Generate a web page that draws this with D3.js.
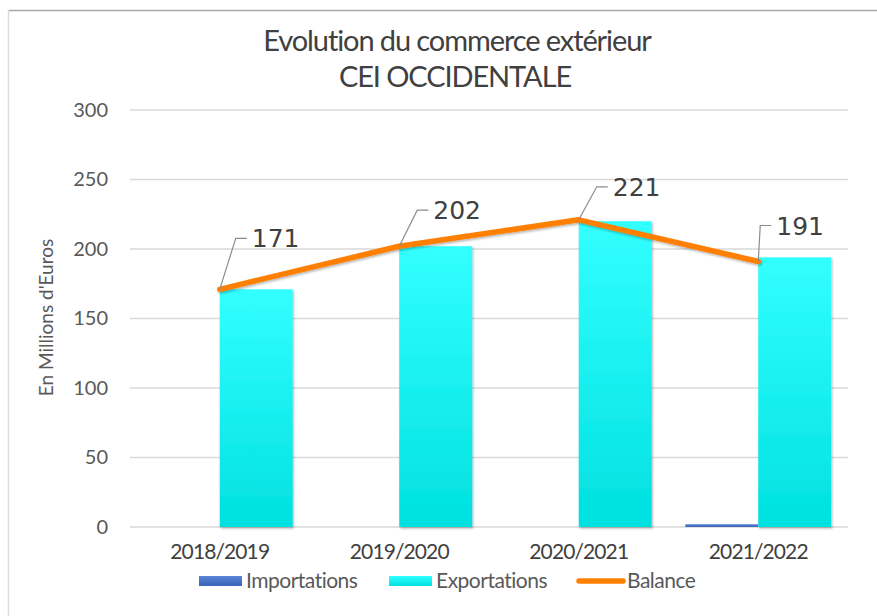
<!DOCTYPE html>
<html>
<head>
<meta charset="utf-8">
<script src="https://cdn.jsdelivr.net/npm/d3@7"></script>
<style>
  html, body { margin: 0; padding: 0; background: #fff; }
  svg { display: block; }
</style>
</head>
<body>
<div id="chart"></div>
<script>
// données
const periods = ['2018/2019', '2019/2020', '2020/2021', '2021/2022'];
const importations = [0, 0, 0, 2];
const exportations = [171, 202, 220, 194];
const balance = [171, 202, 221, 191];
const yTicks = [0, 50, 100, 150, 200, 250, 300];
const seriesNames = ['Importations', 'Exportations', 'Balance'];

// décalage des étiquettes (dx, dy) par rapport au point
const labelOffsets = [[32, -51], [34, -36], [34, -33], [18, -36]];

const W = 877, H = 616;
const margin = { top: 110, right: 29, bottom: 89, left: 130 };
const width = W - margin.left - margin.right;
const height = H - margin.top - margin.bottom;

const svg = d3.select('#chart').append('svg')
    .attr('width', W)
    .attr('height', H);

const defs = svg.append('defs');

const gradExp = defs.append('linearGradient')
    .attr('id', 'gradExp').attr('x1', 0).attr('y1', 0).attr('x2', 0).attr('y2', 1);
gradExp.append('stop').attr('offset', '0%').attr('stop-color', '#33ffff');
gradExp.append('stop').attr('offset', '100%').attr('stop-color', '#00e0e0');

const gradImp = defs.append('linearGradient')
    .attr('id', 'gradImp').attr('x1', 0).attr('y1', 0).attr('x2', 0).attr('y2', 1);
gradImp.append('stop').attr('offset', '0%').attr('stop-color', '#5a86d6');
gradImp.append('stop').attr('offset', '100%').attr('stop-color', '#3a64b8');

const shadow = defs.append('filter').attr('id', 'shadow')
    .attr('x', '-10%').attr('y', '-10%').attr('width', '130%').attr('height', '130%');
shadow.append('feDropShadow')
    .attr('dx', 1).attr('dy', 1.5).attr('stdDeviation', 1.2)
    .attr('flood-color', '#000').attr('flood-opacity', 0.3);

// cadre
svg.append('line')
    .attr('x1', 8).attr('x2', W).attr('y1', 10.5).attr('y2', 10.5)
    .attr('stroke', '#a8a8a8').attr('stroke-width', 1.5);
svg.append('line')
    .attr('x1', 8.5).attr('x2', 8.5).attr('y1', 10).attr('y2', H)
    .attr('stroke', '#dcdcdc').attr('stroke-width', 1.5);

// titre
const title = svg.append('text')
    .attr('text-anchor', 'middle')
    .attr('fill', '#404040')
    .style('font-family', 'Lato, sans-serif')
    .style('font-size', '29px')
    .style('letter-spacing', '-1.1px');
title.append('tspan').attr('x', 457).attr('y', 51).text('Evolution du commerce extérieur');
title.append('tspan').attr('x', 455).attr('y', 87).text('CEI OCCIDENTALE');

const g = svg.append('g')
    .attr('transform', `translate(${margin.left},${margin.top})`);

const x0 = d3.scaleBand()
    .domain(periods)
    .range([0, width])
    .paddingInner(0.187)
    .paddingOuter(0.0935);

const x1 = d3.scaleBand()
    .domain(['imp', 'exp'])
    .range([0, x0.bandwidth()]);

const y = d3.scaleLinear()
    .domain([0, 300])
    .range([height, 0]);

// grille
g.selectAll('.grid')
    .data(yTicks)
    .enter()
    .append('line')
    .attr('class', 'grid')
    .attr('x1', 0)
    .attr('x2', width)
    .attr('y1', d => y(d))
    .attr('y2', d => y(d))
    .attr('stroke', '#d9d9d9')
    .attr('stroke-width', 1.5);

// axe Y
const yAxis = g.append('g')
    .call(d3.axisLeft(y).tickValues(yTicks).tickSize(0).tickPadding(22));
yAxis.select('.domain').remove();
yAxis.selectAll('text')
    .attr('fill', '#595959')
    .style('font-family', 'Lato, sans-serif')
    .style('font-size', '20px');

g.append('text')
    .attr('transform', 'rotate(-90)')
    .attr('x', -height / 2 + 1)
    .attr('y', -77)
    .attr('text-anchor', 'middle')
    .attr('fill', '#595959')
    .style('font-family', 'Lato, sans-serif')
    .style('font-size', '19px')
    .text("En Millions d'Euros");

// axe X
const xAxis = g.append('g')
    .attr('transform', `translate(0,${height})`)
    .call(d3.axisBottom(x0).tickSize(0).tickPadding(17));
xAxis.select('.domain').remove();
xAxis.selectAll('text')
    .attr('fill', '#404040')
    .style('font-family', 'Lato, sans-serif')
    .style('font-size', '21px')
    .style('letter-spacing', '-0.9px');

// barres
const groups = g.selectAll('.group')
    .data(periods)
    .enter()
    .append('g')
    .attr('class', 'group')
    .attr('transform', d => `translate(${x0(d)},0)`);

groups.append('rect')
    .attr('x', x1('imp'))
    .attr('width', x1.bandwidth())
    .attr('y', (d, i) => y(importations[i]))
    .attr('height', (d, i) => height - y(importations[i]))
    .attr('fill', 'url(#gradImp)');

groups.append('rect')
    .attr('x', x1('exp'))
    .attr('width', x1.bandwidth())
    .attr('y', (d, i) => y(exportations[i]))
    .attr('height', (d, i) => height - y(exportations[i]))
    .attr('fill', 'url(#gradExp)')
    .attr('filter', 'url(#shadow)');

// ligne balance
const cx = d => x0(d) + x0.bandwidth() / 2;
const line = d3.line()
    .x(d => cx(d.p))
    .y(d => y(d.v));
const pts = periods.map((p, i) => ({ p: p, v: balance[i] }));

g.append('path')
    .datum(pts)
    .attr('d', line)
    .attr('fill', 'none')
    .attr('stroke', '#ff8000')
    .attr('stroke-width', 5.5)
    .attr('stroke-linejoin', 'round')
    .attr('stroke-linecap', 'round')
    .attr('filter', 'url(#shadow)');

// étiquettes avec lignes de rappel
pts.forEach((d, i) => {
    const px = cx(d.p), py = y(d.v);
    const [dx, dy] = labelOffsets[i];
    const lx = px + dx, ly = py + dy;
    g.append('polyline')
        .attr('points', `${px},${py} ${lx - 16},${ly} ${lx - 5},${ly}`)
        .attr('fill', 'none')
        .attr('stroke', '#8c8c8c')
        .attr('stroke-width', 1.2);
    g.append('text')
        .attr('x', lx)
        .attr('y', ly)
        .attr('dy', '0.36em')
        .attr('fill', '#404040')
        .style('font-family', '"DejaVu Sans", sans-serif')
        .style('font-size', '25px')
        .text(d.v);
});

// légende
const legend = svg.append('g')
    .attr('transform', 'translate(0,581)');
const legendX = [199, 389, 577];

seriesNames.forEach((name, i) => {
    const lg = legend.append('g').attr('transform', `translate(${legendX[i]},0)`);
    if (i < 2) {
        lg.append('rect')
            .attr('x', 0).attr('y', -5)
            .attr('width', 43).attr('height', 10)
            .attr('fill', i === 0 ? 'url(#gradImp)' : 'url(#gradExp)');
    } else {
        lg.append('line')
            .attr('x1', 2).attr('x2', 46).attr('y1', 0).attr('y2', 0)
            .attr('stroke', '#ff8000').attr('stroke-width', 5.5)
            .attr('stroke-linecap', 'round');
    }
    lg.append('text')
        .attr('x', i < 2 ? 47 : 50)
        .attr('y', 0)
        .attr('dy', '0.35em')
        .attr('fill', '#595959')
        .style('font-family', 'Lato, sans-serif')
        .style('font-size', '21px')
        .style('letter-spacing', '-0.5px')
        .text(name);
});
</script>
</body>
</html>
